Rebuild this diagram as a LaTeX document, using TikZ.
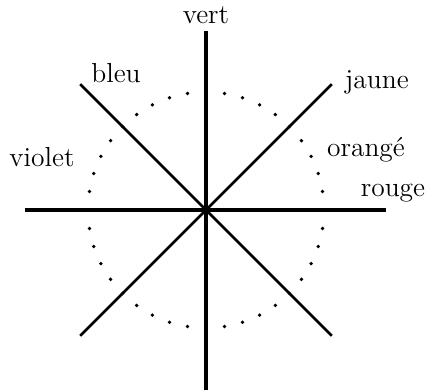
\documentclass[tikz,border=0pt]{standalone}
\usepackage{amsfonts,amsmath,amssymb}
\usepackage{tikz}
\usetikzlibrary{calc,positioning}

\begin{document}
\begin{tikzpicture}[x=0.4pt,y=0.4pt,
    axis/.style={line width=1.9pt},
    diag/.style={line width=1pt},
    colour/.style={inner sep=0pt,font=\fontsize{11}{13}\selectfont}]
    % length of the axes, of the diagonals and radius of the dotted circle
    \pgfmathsetmacro{\Axis}{180}
    \pgfmathsetmacro{\Diag}{178}
    \pgfmathsetmacro{\Rcirc}{118}

    \useasboundingbox (-206,-180) rectangle (219,210);

    \coordinate (centre) at (0,0);

    % dotted circle
    \foreach \a in {0,9,...,351}
        \fill (centre) ++(\a:\Rcirc) circle[radius=1.9];

    \path (centre) ++(90:\Axis-1) coordinate (top)
          (centre) ++(270:\Axis) coordinate (bottom)
          (centre) ++(180:\Axis+1) coordinate (left)
          (centre) ++(0:\Axis) coordinate (right);
    \path (centre) ++(45:\Diag) coordinate (ne)
          (centre) ++(135:\Diag) coordinate (nw)
          (centre) ++(225:\Diag) coordinate (sw)
          (centre) ++(315:\Diag) coordinate (se);

    \draw[axis] (bottom) -- (top);
    \draw[axis] (left) -- (right);
    \draw[diag] (sw) -- (ne);
    \draw[diag] (nw) -- (se);

    \node[colour] (vert) at (0,195) {vert};
    \node[colour] (bleu) at (-90,137) {bleu};
    \node[colour] (jaune) at (171,128) {jaune};
    \node[colour] (violet) at (-164,53) {violet};
    \node[colour] (orange) at (160,60) {orangé};
    \node[colour] (rouge) at (187,17) {rouge};

\end{tikzpicture}
\end{document}
